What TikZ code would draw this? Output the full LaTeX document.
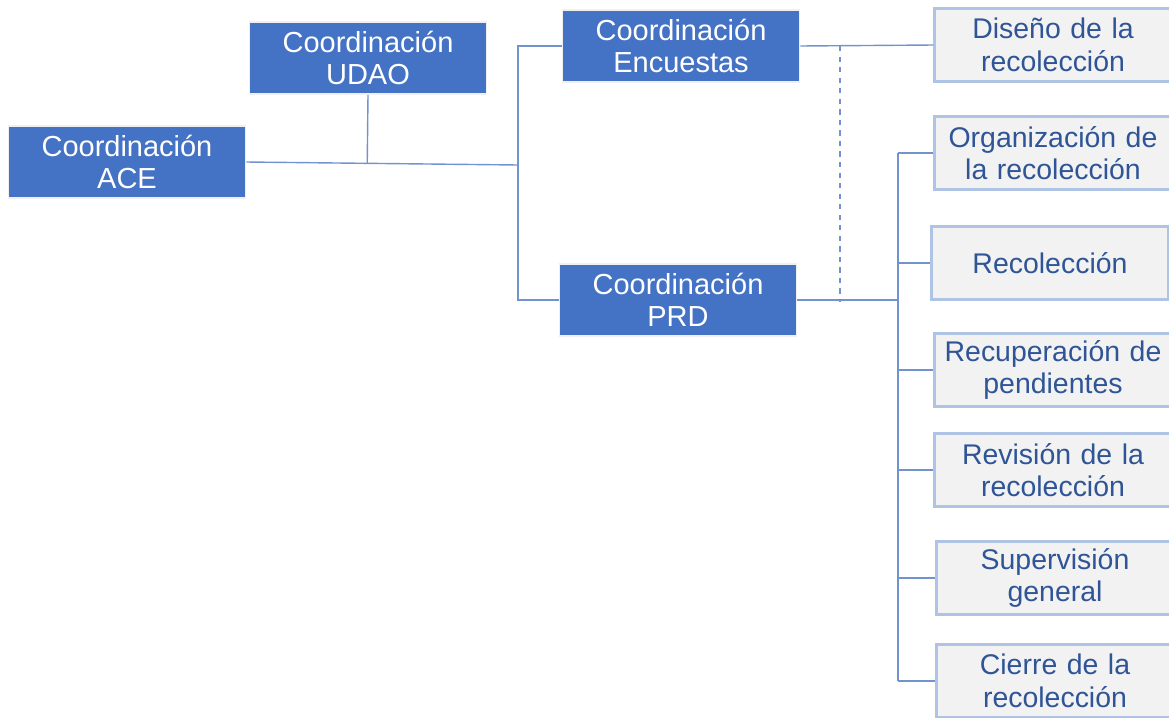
\documentclass[tikz,border=0pt]{standalone}
\usepackage{fontspec}
\setmainfont{Liberation Sans}
\usetikzlibrary{calc}
\definecolor{boxblue}{HTML}{4472C4}
\definecolor{taskfill}{HTML}{F2F2F2}
\definecolor{taskline}{HTML}{AFC3E4}
\definecolor{tasktext}{HTML}{2F5597}
\definecolor{linkblue}{HTML}{7393CE}
\begin{document}
\begin{tikzpicture}[x=0.02cm, y=-0.02cm,
    coord/.style={draw=gray!12, line width=1pt, fill=boxblue, text=white,
      text width=4.5cm, inner xsep=0.12cm, minimum height=1.44cm, align=center,
      font=\fontsize{16.5}{18.5}\selectfont},
    task/.style={draw=taskline, line width=1.2pt, fill=taskfill, text=tasktext,
      text width=4.5cm, inner xsep=0.12cm, minimum height=1.46cm, align=center,
      font=\fontsize{16.2}{18.5}\selectfont},
    link/.style={draw=linkblue, line width=0.8pt}]
      \useasboundingbox (0, 0) rectangle (1169, 717);
      % coordinaciones
      \node[coord] (ace) at (127, 162) {Coordinación\\ACE};
      \node[coord] (udao) at (368, 58) {Coordinación\\UDAO};
      \node[coord] (enc) at (681, 46) {Coordinación\\Encuestas};
      \node[coord] (prd) at (678, 300) {Coordinación\\PRD};
      % tareas
      \node[task] (dis) at (1053, 45) {Diseño de la\\recolección};
      \node[task] (org) at (1053, 153) {Organización de\\la recolección};
      \node[task] (rec) at (1050, 263) {Recolección};
      \node[task] (recu) at (1053, 370) {Recuperación de\\pendientes};
      \node[task] (rev) at (1053, 470) {Revisión de la\\recolección};
      \node[task] (sup) at (1055, 578) {Supervisión\\general};
      \node[task] (cie) at (1055, 681) {Cierre de la\\recolección};
      \coordinate (jA) at (518, 165);
      \coordinate (jP) at (898, 300);
      \coordinate (dtop) at (840, 46);
      \coordinate (dbot) at (840, 302);
      \draw[link] (ace.east) to (jA);
      \draw[link] (udao.south) to ($(ace.east)!(udao.south)!(jA)$);
      \draw[link] (enc.west) -| (jA) |- (prd.west);
      \draw[link] (enc.east) to (dis.west);
      \draw[link, dashed] (dtop) to (dbot);
      \draw[link] (prd.east) to (jP);
      \draw[link] (jP |- org.west) to (jP |- cie.west);
      \foreach \t in {org, rec, recu, rev, sup, cie}
        \draw[link] (jP |- \t.west) to (\t.west);
\end{tikzpicture}
\end{document}
